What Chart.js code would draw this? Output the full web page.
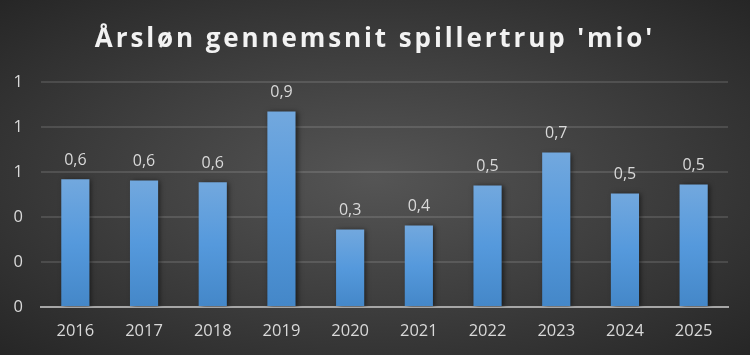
<!DOCTYPE html>
<html>
<head>
<meta charset="utf-8">
<script src="https://cdn.jsdelivr.net/npm/chart.js@4.4.1/dist/chart.umd.min.js"></script>
<style>
  html, body { margin: 0; padding: 0; background: #262626; }
  #wrap {
    position: relative; width: 750px; height: 355px; overflow: hidden;
    background: radial-gradient(ellipse farthest-corner at 50% 50%, #555555 0%, #3e3e3e 50%, #262626 100%);
  }
  canvas { display: block; }
</style>
</head>
<body>
<div id="wrap"><canvas id="c" width="750" height="355"></canvas></div>
<script>
const titleText = "Årsløn gennemsnit spillertrup 'mio'";
const years = ['2016', '2017', '2018', '2019', '2020', '2021', '2022', '2023', '2024', '2025'];
const salaries = [0.568, 0.563, 0.555, 0.870, 0.345, 0.363, 0.541, 0.687, 0.505, 0.545];
const yTickLabels = ['0', '0', '0', '1', '1', '1'];

const textColor = '#d9d9d9';
const fontFamily = "'Open Sans', 'Noto Sans', sans-serif";

const styleText = {
  id: 'styleText',
  afterLayout(chart) {
    const t = chart.titleBlock;
    if (t) { t.left = 0; t.right = chart.width; t.width = chart.width; }
  },
  beforeDraw(chart) {
    chart.ctx.letterSpacing = '2.9px';
  },
  beforeDatasetsDraw(chart) {
    chart.ctx.letterSpacing = '0px';
    const ctx = chart.ctx;
    ctx.save();
    ctx.shadowColor = 'rgba(0,0,0,0.55)';
    ctx.shadowBlur = 5;
    ctx.shadowOffsetX = 2;
    ctx.shadowOffsetY = 1;
  },
  afterDatasetsDraw(chart) {
    const ctx = chart.ctx;
    ctx.restore();
    const meta = chart.getDatasetMeta(0);
    ctx.save();
    ctx.font = "16px " + fontFamily;
    ctx.fillStyle = textColor;
    ctx.textAlign = 'center';
    ctx.textBaseline = 'bottom';
    meta.data.forEach((bar, i) => {
      const v = chart.data.datasets[0].data[i];
      ctx.fillText(v.toFixed(1).replace('.', ','), bar.x, bar.y - 11);
    });
    ctx.restore();
  }
};

function barGradient(context) {
  const chart = context.chart;
  const area = chart.chartArea;
  if (!area || context.type !== 'data') return '#5b9bd5';
  const ys = chart.scales.y;
  const top = ys.getPixelForValue(context.raw);
  const base = ys.getPixelForValue(0);
  if (!isFinite(top) || !isFinite(base) || base - top < 1) return '#5b9bd5';
  const g = chart.ctx.createLinearGradient(0, top, 0, base);
  g.addColorStop(0, '#72a8de');
  g.addColorStop(0.5, '#5599dc');
  g.addColorStop(1, '#4487c8');
  return g;
}

new Chart(document.getElementById('c'), {
  type: 'bar',
  data: {
    labels: years,
    datasets: [{
      data: salaries,
      backgroundColor: barGradient,
      borderWidth: 0,
      barPercentage: 0.41,
      categoryPercentage: 1.0
    }]
  },
  options: {
    responsive: false,
    animation: false,
    layout: { padding: { left: 0, right: 22, top: 0, bottom: 0 } },
    plugins: {
      legend: { display: false },
      tooltip: { enabled: false },
      title: {
        display: true,
        text: titleText,
        color: '#f2f2f2',
        font: { family: fontFamily, size: 26, weight: 'bold' },
        padding: { top: 24, bottom: 27 }
      }
    },
    scales: {
      x: {
        grid: { display: false, drawTicks: false },
        border: { display: true, color: '#a6a6a6', width: 2 },
        ticks: { color: textColor, font: { family: fontFamily, size: 16.5 }, padding: 14, z: 1 },
        afterFit: (s) => { s.height = 48; }
      },
      y: {
        min: 0,
        max: 1.0,
        grid: { color: 'rgba(255,255,255,0.12)', lineWidth: 2, drawTicks: false },
        border: { display: false },
        ticks: {
          stepSize: 0.2,
          color: textColor,
          font: { family: fontFamily, size: 16.5 },
          padding: 18,
          z: 1,
          callback: (v, i) => yTickLabels[i]
        },
        afterFit: (s) => { s.width = 41; }
      }
    }
  },
  plugins: [styleText]
});
</script>
</body>
</html>
